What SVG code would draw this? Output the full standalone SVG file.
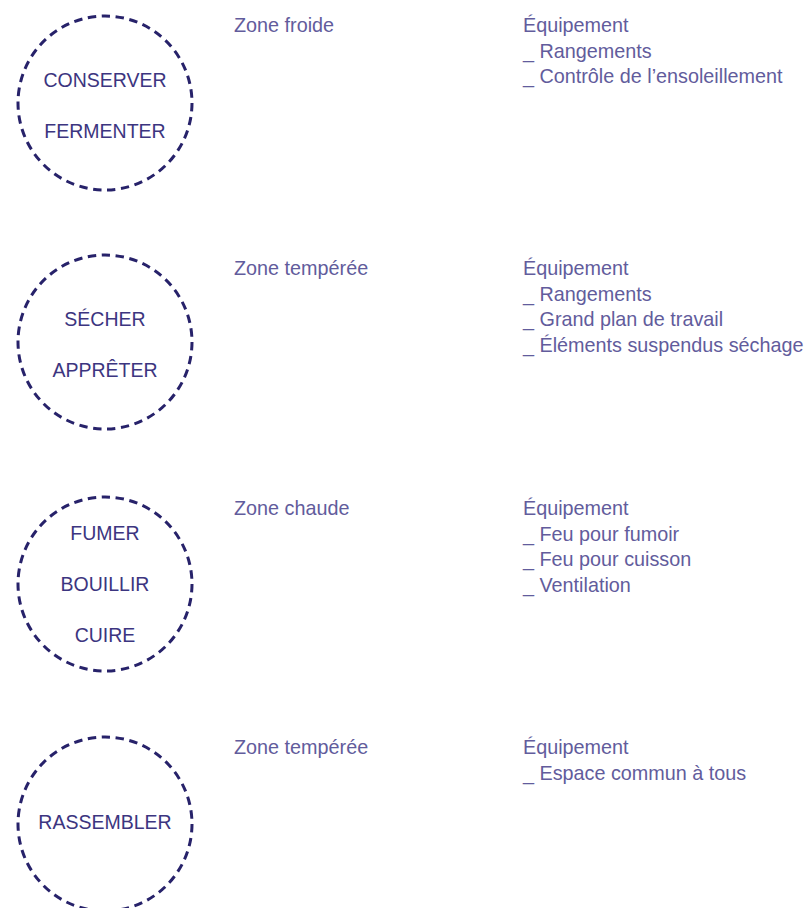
<svg xmlns="http://www.w3.org/2000/svg" width="809" height="908" viewBox="0 0 809 908">
<style>
.c{fill:none;stroke:#27226a;stroke-width:3;stroke-dasharray:8.4 5.6}
.l{font-family:"Liberation Sans",Arial,sans-serif;font-size:19.5px;fill:#3c3580;text-anchor:middle}
.t{font-family:"Liberation Sans",Arial,sans-serif;font-size:19.8px;fill:#625c9c}
</style>
<rect width="809" height="908" fill="#fff"/>
<g id="connectors"/>
<g id="n1">
<circle class="c" cx="105" cy="103" r="87"/>
<text class="l" x="105" y="87">CONSERVER</text>
<text class="l" x="105" y="138">FERMENTER</text>
<text class="t" x="234" y="32">Zone froide</text>
<text class="t" x="523" y="32">Équipement</text>
<text class="t" x="523" y="57.5">_ Rangements</text>
<text class="t" x="523" y="83">_ Contrôle de l’ensoleillement</text>
</g>
<g id="n2">
<circle class="c" cx="105" cy="342" r="87"/>
<text class="l" x="105" y="326">SÉCHER</text>
<text class="l" x="105" y="377">APPRÊTER</text>
<text class="t" x="234" y="275">Zone tempérée</text>
<text class="t" x="523" y="275">Équipement</text>
<text class="t" x="523" y="300.5">_ Rangements</text>
<text class="t" x="523" y="326">_ Grand plan de travail</text>
<text class="t" x="523" y="351.5">_ Éléments suspendus séchage</text>
</g>
<g id="n3">
<circle class="c" cx="105" cy="584" r="87"/>
<text class="l" x="105" y="540">FUMER</text>
<text class="l" x="105" y="591">BOUILLIR</text>
<text class="l" x="105" y="642">CUIRE</text>
<text class="t" x="234" y="515">Zone chaude</text>
<text class="t" x="523" y="515">Équipement</text>
<text class="t" x="523" y="540.5">_ Feu pour fumoir</text>
<text class="t" x="523" y="566">_ Feu pour cuisson</text>
<text class="t" x="523" y="591.5">_ Ventilation</text>
</g>
<g id="n4">
<circle class="c" cx="105" cy="824" r="87"/>
<text class="l" x="105" y="829">RASSEMBLER</text>
<text class="t" x="234" y="754">Zone tempérée</text>
<text class="t" x="523" y="754">Équipement</text>
<text class="t" x="523" y="779.5">_ Espace commun à tous</text>
</g>
</svg>
